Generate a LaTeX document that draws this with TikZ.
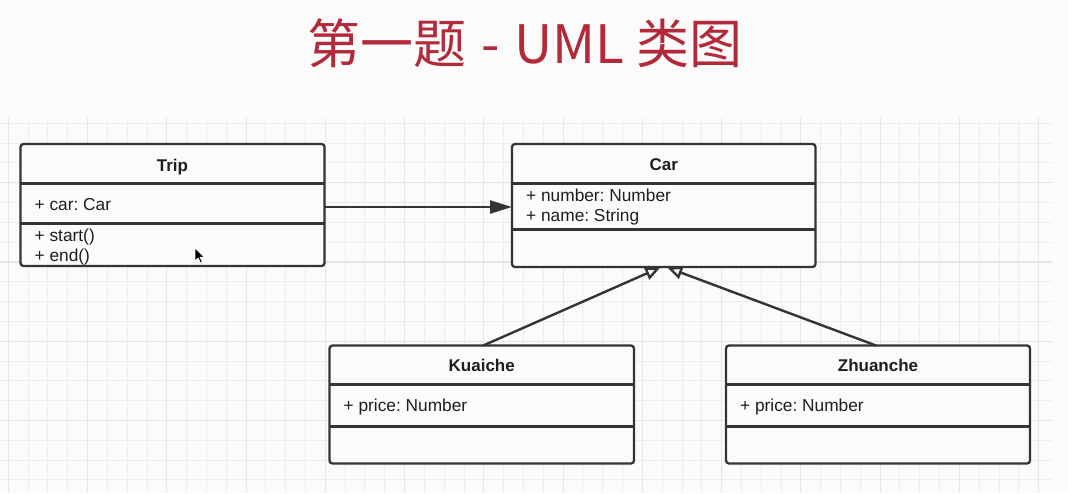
\documentclass[tikz,border=0pt]{standalone}
\usepackage{fontspec}
\setmainfont{Liberation Sans}
\newfontfamily\cjk{Noto Sans CJK SC}
\usetikzlibrary{arrows.meta,calc}
\frenchspacing
\definecolor{titlered}{RGB}{178,42,58}
\definecolor{bgc}{RGB}{251,251,251}
\definecolor{gridminor}{RGB}{237,237,237}
\definecolor{gridmajor}{RGB}{229,229,229}
\definecolor{boxc}{RGB}{52,52,52}
\definecolor{txtc}{RGB}{30,30,30}
\tikzset{
  cls/.style={draw=boxc, line width=2.3pt, rounded corners=3pt, fill=bgc, inner sep=0pt, outer sep=0pt},
  divider/.style={draw=boxc, line width=2.3pt},
  hdr/.style={anchor=base, inner sep=0pt, font=\fontsize{17}{19}\selectfont\bfseries, text=txtc},
  attr/.style={anchor=base west, inner sep=0pt, font=\fontsize{17.3}{19}\selectfont, text=txtc},
  assoc/.style={draw=boxc, line width=2.4pt, -{Triangle[length=22pt,width=13pt]}},
  inherit/.style={draw=boxc, line width=2.4pt, -{Triangle[open,length=15pt,width=13pt,fill=bgc]}},
}
\begin{document}
\begin{tikzpicture}[x=1pt,y=-1pt]
\fill[bgc] (0,0) rectangle (1068,493);
\useasboundingbox (0,0) rectangle (1068,493);
% grid
\foreach \k in {0,...,52}{
  \pgfmathtruncatemacro{\m}{mod(\k,4)}
  \ifnum\m=0
    \draw[gridmajor, line width=1.1pt] ({8.3+19.815*\k},118) -- ({8.3+19.815*\k},493);
  \else
    \draw[gridminor, line width=1pt] ({8.3+19.815*\k},118) -- ({8.3+19.815*\k},493);
  \fi
}
\foreach \k in {0,...,18}{
  \pgfmathtruncatemacro{\m}{mod(\k+1,4)}
  \ifnum\m=0
    \draw[gridmajor, line width=1.1pt] (0,{123.3+19.815*\k}) -- (1052,{123.3+19.815*\k});
  \else
    \draw[gridminor, line width=1pt] (0,{123.3+19.815*\k}) -- (1052,{123.3+19.815*\k});
  \fi
}
% title
\node[anchor=base, inner sep=0pt, text=titlered, font=\cjk\fontsize{53}{60}\selectfont] (title) at (525,63.5) {第一题\hspace{0.06em} - \hspace{0.06em}UML 类图};
% classes
\node[cls, minimum width=304pt, minimum height=122pt] (trip) at (172.5,205) {};
\node[cls, minimum width=303.5pt, minimum height=123pt] (car) at (663.75,205.5) {};
\node[cls, minimum width=304.5pt, minimum height=118pt] (kuaiche) at (481.75,404.5) {};
\node[cls, minimum width=304pt, minimum height=118pt] (zhuanche) at (878,404.5) {};
% dividers
\draw[divider] ($(trip.north west)+(0,39.5)$) -- ($(trip.north east)+(0,39.5)$);
\draw[divider] ($(trip.north west)+(0,79.5)$) -- ($(trip.north east)+(0,79.5)$);
\draw[divider] ($(car.north west)+(0,39.5)$) -- ($(car.north east)+(0,39.5)$);
\draw[divider] ($(car.north west)+(0,85.5)$) -- ($(car.north east)+(0,85.5)$);
\draw[divider] ($(kuaiche.north west)+(0,39)$) -- ($(kuaiche.north east)+(0,39)$);
\draw[divider] ($(kuaiche.north west)+(0,81)$) -- ($(kuaiche.north east)+(0,81)$);
\draw[divider] ($(zhuanche.north west)+(0,39)$) -- ($(zhuanche.north east)+(0,39)$);
\draw[divider] ($(zhuanche.north west)+(0,81)$) -- ($(zhuanche.north east)+(0,81)$);
% texts
\node[hdr] (tripname) at ($(trip.north)+(0,27)$) {Trip};
\node[attr] (tripcar) at ($(trip.north west)+(14,66)$) {+ car: Car};
\node[attr] (tripstart) at ($(trip.north west)+(14,97)$) {+ start()};
\node[attr] (tripend) at ($(trip.north west)+(14,117.5)$) {+ end()};
\node[hdr] (carname) at ($(car.north)+(0,26.7)$) {Car};
\node[attr] (carnum) at ($(car.north west)+(14,57)$) {+ number: Number};
\node[attr] (carnm) at ($(car.north west)+(14,77.7)$) {+ name: String};
\node[hdr] (kname) at ($(kuaiche.north)+(0,25.5)$) {Kuaiche};
\node[attr] (kprice) at ($(kuaiche.north west)+(14,65.5)$) {+ price: Number};
\node[hdr] (zname) at ($(zhuanche.north)+(0,25.5)$) {Zhuanche};
\node[attr] (zprice) at ($(zhuanche.north west)+(14,65.5)$) {+ price: Number};
% connectors
\draw[assoc] ($(trip.east)+(0,2)$) -- ($(car.west)+(0,1.5)$);
\draw[inherit] ($(kuaiche.north)+(1.5,0)$) -- ($(car.south)+(-3.5,0.5)$);
\draw[inherit] ($(zhuanche.north)+(-2,0)$) -- ($(car.south)+(3.5,0.5)$);
% mouse cursor
\filldraw[fill=black, draw=white, line width=0.6pt, line join=round]
  (195,248) -- (195,261) -- (198.2,258) -- (200.6,263) -- (202.4,262.2) -- (200,257.2) -- (204.2,257.2) -- cycle;
\end{tikzpicture}
\end{document}
